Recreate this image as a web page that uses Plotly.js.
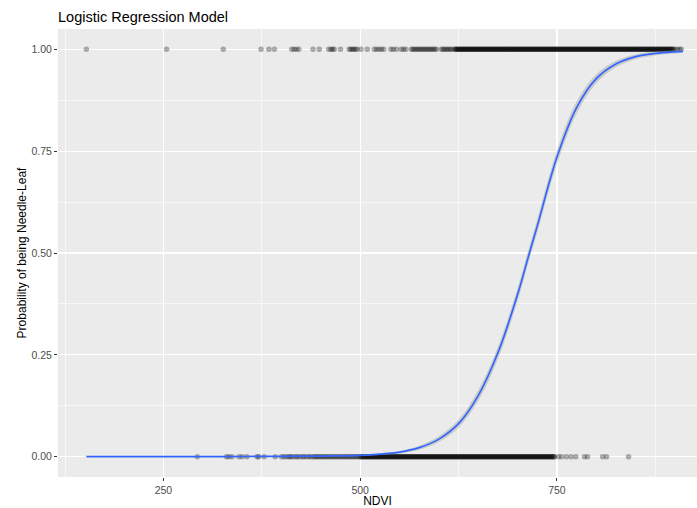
<!DOCTYPE html>
<html>
<head>
<meta charset="utf-8">
<script src="https://cdn.plot.ly/plotly-3.0.1.min.js"></script>
<style>html,body{margin:0;padding:0;background:#fff;}#chart{width:697px;height:508px;}</style>
</head>
<body>
<div id="chart"></div>
<script>
// Observed NDVI values of Needle-Leaf pixels (y = 1)
const onesX = [
152,254,326,374,384,391,413,416,419,422,440,448,460,463,465,467,475,486,488,490,
492,494,496,501,509,518,521,524,527,530,539,542,546,552,555,558,565,567,569,571,
573,575,577,579,581,583,585,587,589,591,593,595,597,603,605,607,609,611,613,615,617,
620,621,622,623,624,625,626,627,628,629,630,631,632,633,634,635,636,637,638,639,
640,641,642,643,644,645,646,647,648,649,650,651,652,653,654,655,656,657,658,659,
660,661,662,663,664,665,666,667,668,669,670,671,672,673,674,675,676,677,678,679,
680,681,682,683,684,685,686,687,688,689,690,691,692,693,694,695,696,697,698,699,
700,701,702,703,704,705,706,707,708,709,710,711,712,713,714,715,716,717,718,719,
720,721,722,723,724,725,726,727,728,729,730,731,732,733,734,735,736,737,738,739,
740,741,742,743,744,745,746,747,748,749,750,751,752,753,754,755,756,757,758,759,
760,761,762,763,764,765,766,767,768,769,770,771,772,773,774,775,776,777,778,779,
780,781,782,783,784,785,786,787,788,789,790,791,792,793,794,795,796,797,798,799,
800,801,802,803,804,805,806,807,808,809,810,811,812,813,814,815,816,817,818,819,
820,821,822,823,824,825,826,827,828,829,830,831,832,833,834,835,836,837,838,839,
840,841,842,843,844,845,846,847,848,849,850,851,852,853,854,855,856,857,858,859,
860,861,862,863,864,865,866,867,868,869,870,871,872,873,874,875,876,877,878,879,
880,881,882,883,884,885,886,887,888,889,890,891,892,893,894,895,896,897,
898,900,903,906,908
];
const onesY = onesX.map(() => 1);

// Observed NDVI values of other pixels (y = 0)
const zerosX = [
293,330,333,337,346,350,356,369,371,378,392,400,403,406,409,411,413,416,419,421,
424,427,429,432,435,437,440,442,444,446,448,450,452,454,456,458,460,462,464,466,
468,470,472,474,476,478,480,482,484,486,488,490,492,494,496,498,
500,501,502,503,504,505,506,507,508,509,510,511,512,513,514,515,516,517,518,519,
520,521,522,523,524,525,526,527,528,529,530,531,532,533,534,535,536,537,538,539,
540,541,542,543,544,545,546,547,548,549,550,551,552,553,554,555,556,557,558,559,
560,561,562,563,564,565,566,567,568,569,570,571,572,573,574,575,576,577,578,579,
580,581,582,583,584,585,586,587,588,589,590,591,592,593,594,595,596,597,598,599,
600,601,602,603,604,605,606,607,608,609,610,611,612,613,614,615,616,617,618,619,
620,621,622,623,624,625,626,627,628,629,630,631,632,633,634,635,636,637,638,639,
640,641,642,643,644,645,646,647,648,649,650,651,652,653,654,655,656,657,658,659,
660,661,662,663,664,665,666,667,668,669,670,671,672,673,674,675,676,677,678,679,
680,681,682,683,684,685,686,687,688,689,690,691,692,693,694,695,696,697,698,699,
700,701,702,703,704,705,706,707,708,709,710,711,712,713,714,715,716,717,718,719,
720,721,722,723,724,725,726,727,728,729,730,731,732,733,734,735,736,737,738,739,
740,741,742,743,744,745,746,747,
752,756,762,768,774,785,789,808,813,841
];
const zerosY = zerosX.map(() => 0);

// Fitted logistic curve and its confidence band
const curveX = [152,200,250,300,350,400,450,500,525,550,575,600,625,650,675,700,715,725,750,775,800,825,850,875,900,910];
const curveP = [0.000,0.000,0.000,0.000,0.0003,0.0007,0.0015,0.003,0.006,0.011,0.022,0.043,0.081,0.150,0.255,0.398,0.500,0.566,0.735,0.857,0.928,0.964,0.982,0.990,0.994,0.995];
const bandLo = [0.000,0.000,0.000,0.000,0.0001,0.0003,0.0008,0.0018,0.004,0.008,0.017,0.036,0.071,0.137,0.240,0.382,0.484,0.550,0.718,0.842,0.917,0.956,0.976,0.985,0.990,0.991];
const bandHi = [0.000,0.000,0.000,0.000,0.0005,0.0011,0.0022,0.0042,0.008,0.014,0.027,0.050,0.091,0.163,0.270,0.414,0.516,0.582,0.752,0.872,0.939,0.972,0.988,0.995,0.998,0.999];

const xTicks = [250, 500, 750];
const yTicks = [0, 0.25, 0.5, 0.75, 1];
const yTickText = ['0.00', '0.25', '0.50', '0.75', '1.00'];

const ptStyle = {color: 'rgba(0,0,0,0.3)', size: 5.5, line: {width: 0}};

const traces = [
  {x: onesX, y: onesY, type: 'scatter', mode: 'markers', marker: ptStyle, hoverinfo: 'x+y'},
  {x: zerosX, y: zerosY, type: 'scatter', mode: 'markers', marker: ptStyle, hoverinfo: 'x+y'},
  {x: curveX, y: bandHi, type: 'scatter', mode: 'lines', line: {width: 0, shape: 'spline', smoothing: 1}, hoverinfo: 'skip'},
  {x: curveX, y: bandLo, type: 'scatter', mode: 'lines', line: {width: 0, shape: 'spline', smoothing: 1}, fill: 'tonexty', fillcolor: 'rgba(153,153,153,0.4)', hoverinfo: 'skip'},
  {x: curveX, y: curveP, type: 'scatter', mode: 'lines', line: {color: '#3366FF', width: 1.7, shape: 'spline', smoothing: 1}}
];

const tickFont = {family: 'Liberation Sans, Arial, sans-serif', size: 10.5, color: '#4D4D4D'};
const titleFont = {family: 'Liberation Sans, Arial, sans-serif', size: 12, color: '#000'};

const layout = {
  width: 697, height: 508,
  margin: {l: 58, r: 0, t: 29, b: 31},
  paper_bgcolor: '#ffffff',
  plot_bgcolor: '#EBEBEB',
  showlegend: false,
  title: {
    text: 'Logistic Regression Model',
    font: {family: 'Liberation Sans, Arial, sans-serif', size: 14.5, color: '#000'},
    xref: 'paper', x: 0, xanchor: 'left',
    yref: 'container', y: 1 - 17/508, yanchor: 'middle'
  },
  xaxis: {
    range: [116, 928],
    tickvals: xTicks,
    ticktext: xTicks.map(String),
    ticks: 'outside', ticklen: 3, tickwidth: 1, tickcolor: '#333333',
    tickfont: tickFont,
    showgrid: true, gridcolor: '#FFFFFF', gridwidth: 1.3,
    minor: {tickvals: [125, 375, 625, 875], showgrid: true, gridcolor: '#FFFFFF', gridwidth: 0.6, ticks: ''},
    zeroline: false, showline: false,
    title: {text: 'NDVI', font: titleFont, standoff: 4}
  },
  yaxis: {
    range: [-0.05, 1.05],
    tickvals: yTicks,
    ticktext: yTickText,
    ticks: 'outside', ticklen: 3, tickwidth: 1, tickcolor: '#333333',
    tickfont: tickFont,
    showgrid: true, gridcolor: '#FFFFFF', gridwidth: 1.3,
    minor: {tickvals: [0.125, 0.375, 0.625, 0.875], showgrid: true, gridcolor: '#FFFFFF', gridwidth: 0.6, ticks: ''},
    zeroline: false, showline: false,
    title: {text: 'Probability of being Needle-Leaf', font: titleFont, standoff: 2}
  }
};

Plotly.newPlot('chart', traces, layout, {displayModeBar: false, staticPlot: true});
</script>
</body>
</html>
